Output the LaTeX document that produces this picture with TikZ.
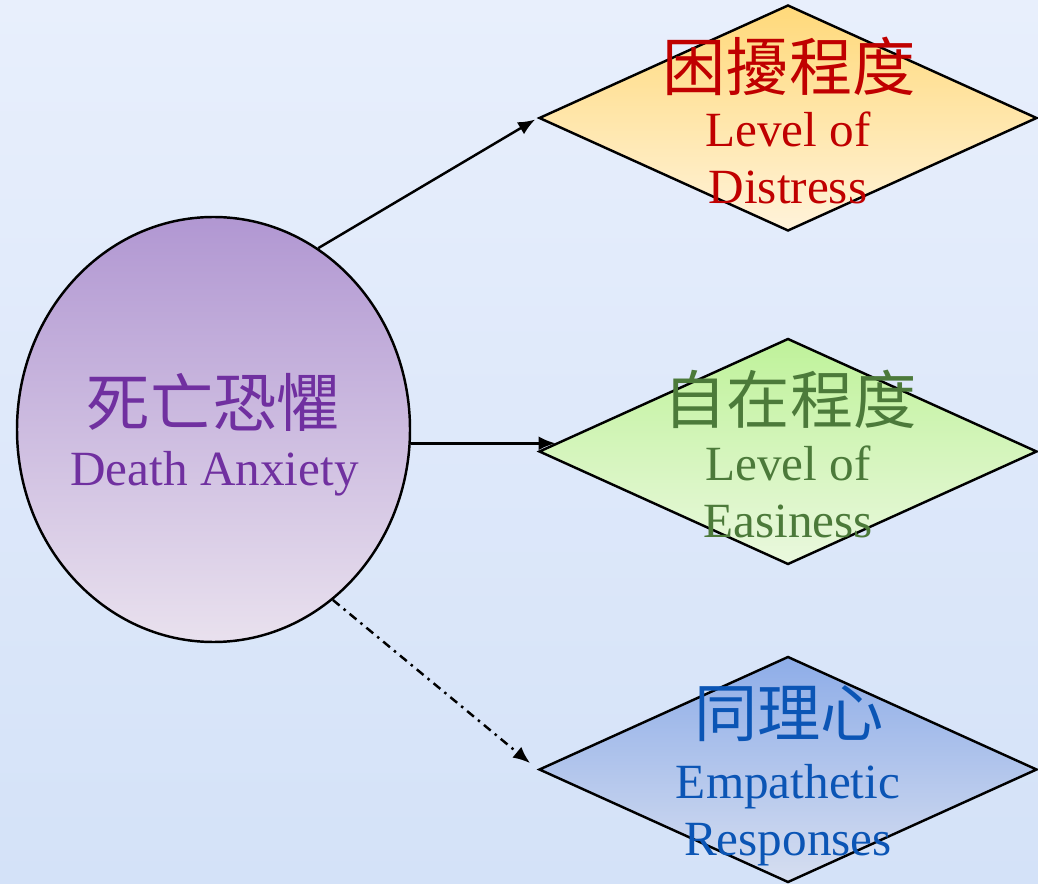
\documentclass[tikz,border=0pt]{standalone}
\usepackage{fontspec}
\setmainfont{Liberation Serif}
\newfontfamily\cjk{Noto Sans CJK TC}
\usetikzlibrary{shapes.geometric,arrows.meta}

\definecolor{bgtop}{RGB}{232,239,252}
\definecolor{bgbot}{RGB}{212,226,248}
\definecolor{anxtop}{RGB}{177,151,210}
\definecolor{anxbot}{RGB}{233,225,238}
\definecolor{distop}{RGB}{255,217,122}
\definecolor{disbot}{RGB}{255,243,218}
\definecolor{eastop}{RGB}{191,242,154}
\definecolor{easbot}{RGB}{234,248,222}
\definecolor{emptop}{RGB}{142,173,232}
\definecolor{empbot}{RGB}{214,222,240}
\definecolor{anxtext}{RGB}{112,48,160}
\definecolor{distext}{RGB}{192,0,0}
\definecolor{eastext}{RGB}{76,122,58}
\definecolor{emptext}{RGB}{11,85,181}

\tikzset{
  anxiety/.style={ellipse, draw, line width=1.4pt, minimum width=7.86cm, minimum height=8.5cm, inner sep=0pt},
  choice/.style={diamond, draw, line width=1.4pt, minimum width=9.96cm, minimum height=4.52cm, inner sep=0pt},
  zh/.style={font=\cjk\fontsize{36}{40}\selectfont, inner sep=0pt},
  en/.style={font=\fontsize{28}{32}\selectfont, inner sep=0pt, anchor=base},
  arr/.style={-{Latex[length=0.34cm,width=0.28cm]}, line width=1.4pt}
}

\begin{document}
\begin{tikzpicture}
			%%%%% START %%%%%
			
			\useasboundingbox (0, 0) rectangle (20.76, 17.66);
			\shade[top color=bgtop, bottom color=bgbot] (0, 0) rectangle (20.76, 17.66);
			
			% death anxiety
			\node[anxiety, top color=anxtop, bottom color=anxbot] (anx) at (4.27, 9.07) {};
			\node[zh, color=anxtext] (anxZh) at (4.27, 9.62) {死亡恐懼};
			\node[en, color=anxtext] (anxEn) at (4.29, 7.94) {Death Anxiety};
			
			% distress
			\node[choice, top color=distop, bottom color=disbot] (dis) at (15.76, 15.3) {};
			\node[zh, color=distext] (disZh) at (15.78, 16.34) {困擾程度};
			\node[en, color=distext] (disEn1) at (15.76, 14.72) {Level of};
			\node[en, color=distext] (disEn2) at (15.76, 13.58) {Distress};
			
			% easiness
			\node[choice, top color=eastop, bottom color=easbot] (eas) at (15.76, 8.63) {};
			\node[zh, color=eastext] (easZh) at (15.8, 9.68) {自在程度};
			\node[en, color=eastext] (easEn1) at (15.76, 8.06) {Level of};
			\node[en, color=eastext] (easEn2) at (15.76, 6.92) {Easiness};
			
			% empathy
			\node[choice, top color=emptop, bottom color=empbot] (emp) at (15.76, 2.27) {};
			\node[zh, color=emptext] (empZh) at (15.78, 3.38) {同理心};
			\node[en, color=emptext] (empEn1) at (15.76, 1.70) {Empathetic};
			\node[en, color=emptext] (empEn2) at (15.76, 0.56) {Responses};
			
			\draw[arr, shorten >=0.06cm] (anx.60) -- (dis.west);
			\draw[arr] (anx.-4) -- (anx.-4 -| eas.178);
			\draw[arr, shorten >=0.2cm, dash pattern=on 5pt off 3pt on 1.4pt off 3pt] (anx.-55) -- (emp.west);
			
			%%%%% END %%%%%
		\end{tikzpicture}
\end{document}
